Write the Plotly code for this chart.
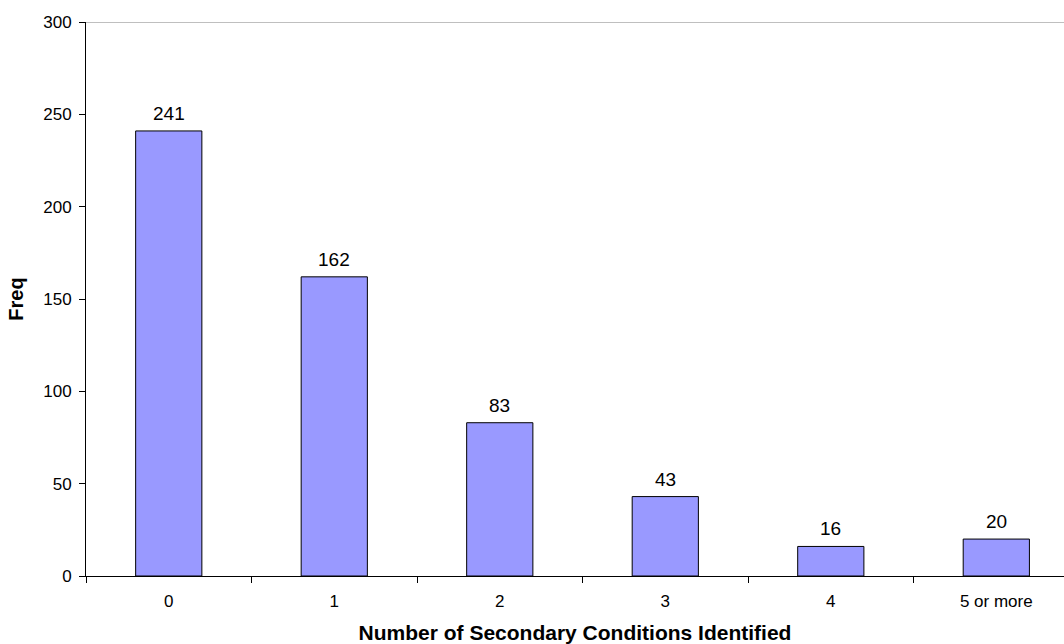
import plotly.graph_objects as go

# Frequency of secondary conditions identified per respondent
categories = ["0", "1", "2", "3", "4", "5 or more"]
freq = [241, 162, 83, 43, 16, 20]

FONT = "Arial, Liberation Sans, sans-serif"

fig = go.Figure()
fig.add_trace(go.Bar(
    x=categories,
    y=freq,
    width=0.4,
    marker=dict(color="#9999FF", line=dict(color="black", width=1)),
    hoverinfo="x+y",
))

# Value labels sitting just above each bar
for cat, val in zip(categories, freq):
    fig.add_annotation(
        x=cat, y=val, text=str(val), showarrow=False,
        yanchor="bottom", yshift=5,
        font=dict(family=FONT, size=19, color="black"),
    )

# Thin gray line closing the top of the plot area
fig.add_shape(type="line", xref="paper", yref="y", x0=0, x1=1, y0=300, y1=300,
              line=dict(color="#808080", width=1))

fig.update_layout(
    width=1064,
    height=644,
    margin=dict(l=86, r=0, t=22, b=68),
    paper_bgcolor="white",
    plot_bgcolor="white",
    showlegend=False,
    font=dict(family=FONT, size=16, color="black"),
    xaxis=dict(
        type="category",
        range=[-0.5, 5.409],
        showline=True,
        linecolor="black",
        linewidth=1,
        ticks="outside",
        tickson="boundaries",
        ticklen=6,
        tickcolor="black",
        ticklabelstandoff=10,
        showgrid=False,
        automargin=False,
        title=dict(text="<b>Number of Secondary Conditions Identified</b>",
                   font=dict(size=21), standoff=21),
        tickfont=dict(size=17),
    ),
    yaxis=dict(
        range=[0, 300],
        dtick=50,
        showline=True,
        linecolor="black",
        linewidth=1,
        ticks="outside",
        ticklen=6,
        tickcolor="black",
        ticklabelstandoff=4,
        showgrid=False,
        zeroline=False,
        automargin=False,
        title=dict(text="<b>Freq</b>", font=dict(size=20), standoff=14),
        tickfont=dict(size=17),
    ),
)

fig.write_html("out.html")
